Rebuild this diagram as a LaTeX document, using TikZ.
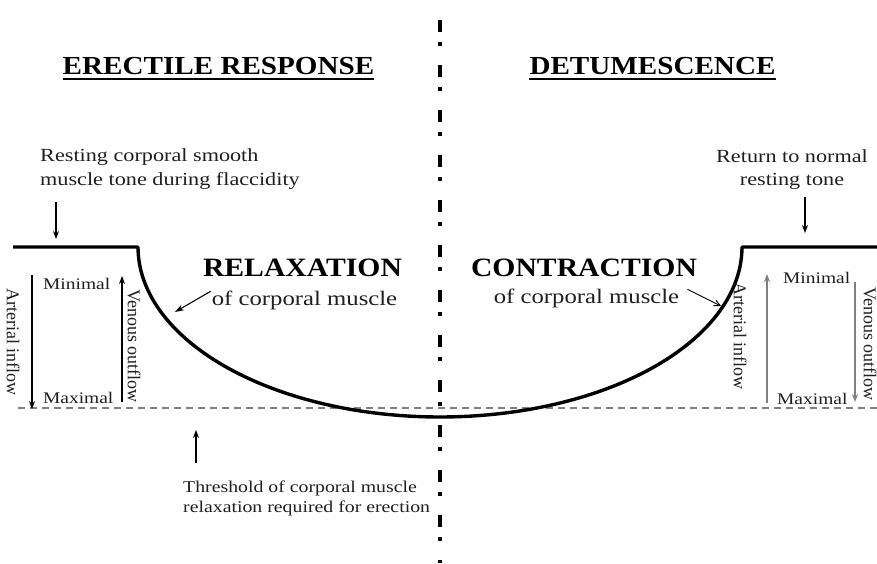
\documentclass[tikz,border=0pt]{standalone}
\usepackage{fontspec}
\setmainfont{Liberation Serif}
\newfontfamily\wideserif[FakeStretch=1.2]{Liberation Serif}
\newfontfamily\widebold[FakeStretch=1.12]{Liberation Serif Bold}
\usetikzlibrary{arrows.meta}
\begin{document}
\begin{tikzpicture}[x=1pt,y=-1pt,
  txt/.style={inner sep=0pt, text=black!88},
  titlefont/.style={inner sep=0pt, font=\widebold\fontsize{26}{30}\selectfont},
  bigbold/.style={inner sep=0pt, font=\widebold\fontsize{26.5}{30}\selectfont},
  subfont/.style={txt, font=\wideserif\fontsize{20.6}{24}\selectfont},
  notefont/.style={txt, font=\wideserif\fontsize{18.5}{24}\selectfont},
  smallfont/.style={txt, font=\wideserif\fontsize{16.2}{20}\selectfont},
  thrfont/.style={txt, font=\wideserif\fontsize{16.5}{20}\selectfont},
  rotfont/.style={txt, rotate=-90, font=\fontsize{18}{20}\selectfont},
  ridge/.style={line width=3.4pt, line join=round},
  arr/.style={line width=1.2pt, -{Stealth[length=8pt,width=6pt]}},
  grayarr/.style={line width=1.4pt, draw=black!50, -{Stealth[length=8pt,width=6pt,fill=black!70]}},
  pointer/.style={line width=1.1pt, -{Stealth[length=9pt,width=6pt]}},
  thinpointer/.style={line width=0.9pt, -{Straight Barb[length=6pt,width=6pt]}},
  threshold/.style={draw=black!50, line width=1.7pt, dash pattern=on 7pt off 5pt},
  axis/.style={line width=4.5pt, dash pattern=on 12pt off 10pt on 4pt off 19pt}
]
\useasboundingbox (0,0) rectangle (877,563);

% titles
\node[titlefont, anchor=base] (t1) at (218.5,74) {ERECTILE RESPONSE};
\draw[line width=1.8pt] ([yshift=-5pt]t1.base west) -- ([yshift=-5pt]t1.base east);
\node[titlefont, anchor=base] (t2) at (652.5,74) {DETUMESCENCE};
\draw[line width=1.8pt] ([yshift=-5pt]t2.base west) -- ([yshift=-5pt]t2.base east);

% central axis
\coordinate (axtop) at (440,20);
\coordinate (axbot) at (440,563);
\draw[axis] (axtop) -- (axbot);

% threshold line
\coordinate (thl) at (18,408);
\coordinate (thr) at (877,408);
\draw[threshold] (thl) -- (thr);

% muscle tone profile
\coordinate (lflat) at (13,247);
\coordinate (rflat) at (877,247);
\draw[ridge] (lflat) -- plot[domain=180:360, samples=150] ({440+302*cos(\x)},{247-170*sin(\x)}) -- (rflat);

% upper-left note
\node[notefont, anchor=base west] (rest1) at (40,161) {Resting corporal smooth};
\node[notefont, anchor=base west] (rest2) at (40,185) {muscle tone during flaccidity};
\coordinate (ra1) at (56,202);
\coordinate (ra2) at (56,239);
\draw[arr] (ra1) -- (ra2);

% upper-right note
\node[notefont, anchor=base] (ret1) at (792,162) {Return to normal};
\node[notefont, anchor=base] (ret2) at (792,185) {resting tone};
\coordinate (rb1) at (805,197);
\coordinate (rb2) at (805,233);
\draw[arr] (rb1) -- (rb2);

% relaxation
\node[bigbold, anchor=base] (relax) at (302.5,276) {RELAXATION};
\node[subfont, anchor=base] (relaxsub) at (304.5,305) {of corporal muscle};
\coordinate (relaxtip) at (175,312);
\draw[pointer] ([xshift=-1pt,yshift=-1pt]relaxsub.north west) -- (relaxtip);

% contraction
\node[bigbold, anchor=base] (contr) at (584,276) {CONTRACTION};
\node[subfont, anchor=base] (contrsub) at (586.5,303) {of corporal muscle};
\coordinate (contrtip) at (721,306);
\draw[thinpointer] ([xshift=8pt,yshift=-1pt]contrsub.north east) -- (contrtip);

% left flow scale
\node[rotfont] (lart) at (13,342) {Arterial inflow};
\node[rotfont] (lven) at (134,346) {Venous outflow};
\node[smallfont, anchor=base west] (lmin) at (43,289) {Minimal};
\node[smallfont, anchor=base west] (lmax) at (43,403) {Maximal};
\coordinate (la1) at (32,275);
\coordinate (la2) at (32,409);
\draw[arr] (la1) -- (la2);
\coordinate (lv1) at (122,402);
\coordinate (lv2) at (122,276);
\draw[arr] (lv1) -- (lv2);

% right flow scale
\node[rotfont] (rart) at (740,336) {Arterial inflow};
\node[rotfont] (rven) at (870,344) {Venous outflow};
\node[smallfont, anchor=base west] (rmin) at (783,283) {Minimal};
\node[smallfont, anchor=base west] (rmax) at (777,404) {Maximal};
\coordinate (rv1) at (767,403);
\coordinate (rv2) at (767,274);
\draw[grayarr] (rv1) -- (rv2);
\coordinate (rw1) at (855,282);
\coordinate (rw2) at (855,402);
\draw[grayarr] (rw1) -- (rw2);

% threshold note
\node[thrfont, anchor=base west] (thr1) at (183,492) {Threshold of corporal muscle};
\node[thrfont, anchor=base west] (thr2) at (183,512) {relaxation required for erection};
\coordinate (ta1) at (196,463);
\coordinate (ta2) at (196,430);
\draw[arr] (ta1) -- (ta2);
\end{tikzpicture}
\end{document}
